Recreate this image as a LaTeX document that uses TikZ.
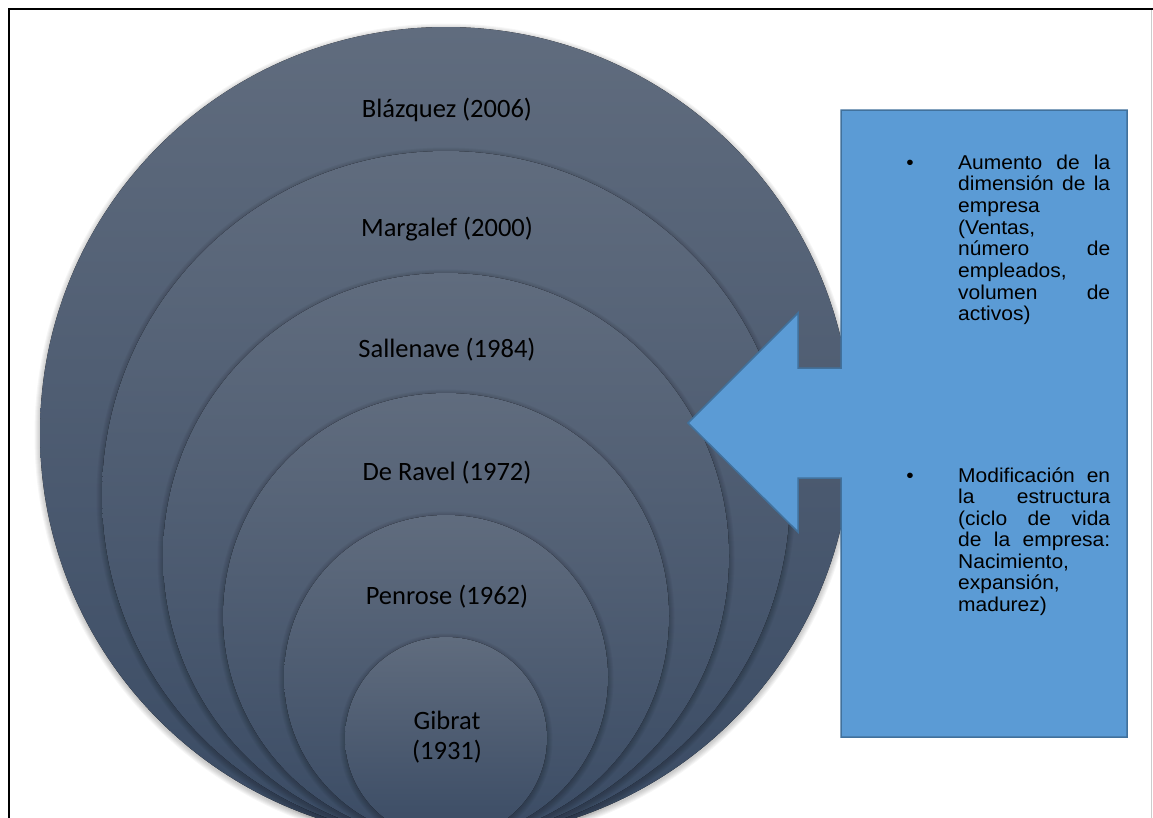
\documentclass[tikz,border=0pt]{standalone}
\usepackage{fontspec}
\setmainfont{Carlito}
\newfontfamily\boxfont[FakeStretch=1.05]{Liberation Sans}
\definecolor{ctop}{HTML}{606C7E}
\definecolor{cbot}{HTML}{3A4B64}
\definecolor{callfill}{HTML}{5B9BD5}
\definecolor{calldraw}{HTML}{41719C}
\tikzset{
  ring/.style={top color=ctop, bottom color=cbot},
  ringshadow/.style={fill=black, opacity=0.035},
  lbl/.style={font=\fontsize{26.5}{30}\selectfont, text=black, align=center, inner sep=0pt},
  btxt/.style={font=\boxfont\fontsize{20}{21.7}\selectfont, text=black, inner sep=0pt, anchor=base west},
  bul/.style={font=\boxfont\fontsize{20}{21.7}\selectfont, text=black, inner sep=0pt, anchor=base},
  callout/.style={fill=callfill, draw=calldraw, line width=1.5pt, line join=miter},
}
\begin{document}
\begin{tikzpicture}[x=1pt,y=-1pt]
\useasboundingbox (0,0) rectangle (1153,817);
\fill[white] (0,0) rectangle (1153,817);
% frame
\draw[black, line width=2pt] (9,830) -- (9,9) -- (1153,9);
\draw[gray!40, line width=1pt] (1151,10) -- (1151,830);
% nested circles, all tangent at the bottom
\foreach \r in {406,344,283,223,162,101}{
  \foreach \k in {0.5,1.5,2.5,3.5,4.5,5.5}{
    \fill[ringshadow] (446,839-\r+2) circle ({\r+\k});
  }
  \fill[ring] (446,839-\r) circle (\r);
}
% labels
\node[lbl] (blazquez)  at (447,110) {Blázquez (2006)};
\node[lbl] (margalef)  at (447,229) {Margalef (2000)};
\node[lbl] (sallenave) at (447,350) {Sallenave (1984)};
\node[lbl] (deravel)   at (447,473) {De Ravel (1972)};
\node[lbl] (penrose)   at (447,597) {Penrose (1962)};
\node[lbl] (gibrat)    at (447,737) {Gibrat\\(1931)};
% left arrow callout
\draw[callout] (841,110) -- (1127,110) -- (1127,737) -- (841,737) -- (841,478)
  -- (798,478) -- (798,532) -- (688,423) -- (798,313) -- (798,368) -- (841,368) -- cycle;
% bullets
\node[bul] (b1) at (910,169) {•};
\node[bul] (b2) at (910,482) {•};
% first block
\node[btxt] (a1) at (958,169.0) {\makebox[152pt][s]{Aumento de la}};
\node[btxt] (a2) at (958,190.7) {\makebox[152pt][s]{dimensión de la}};
\node[btxt] (a3) at (958,212.4) {empresa};
\node[btxt] (a4) at (958,234.1) {(Ventas,};
\node[btxt] (a5) at (958,255.8) {\makebox[152pt][s]{número de}};
\node[btxt] (a6) at (958,277.5) {empleados,};
\node[btxt] (a7) at (958,299.2) {\makebox[152pt][s]{volumen de}};
\node[btxt] (a8) at (958,320.9) {activos)};
% second block
\node[btxt] (m1) at (958,482.0) {\makebox[152pt][s]{Modificación en}};
\node[btxt] (m2) at (958,503.5) {\makebox[152pt][s]{la estructura}};
\node[btxt] (m3) at (958,525.0) {\makebox[152pt][s]{(ciclo de vida}};
\node[btxt] (m4) at (958,546.5) {\makebox[152pt][s]{de la empresa:}};
\node[btxt] (m5) at (958,568.0) {Nacimiento,};
\node[btxt] (m6) at (958,589.5) {expansión,};
\node[btxt] (m7) at (958,611.0) {madurez)};
\end{tikzpicture}
\end{document}
